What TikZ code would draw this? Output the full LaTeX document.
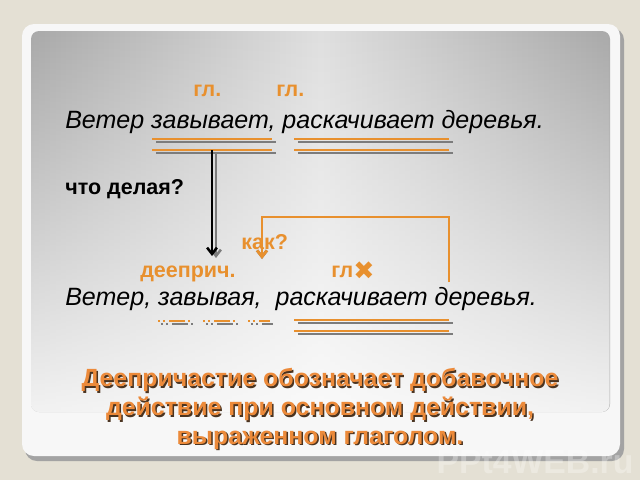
\documentclass[tikz,border=0pt]{standalone}
\usepackage{fontspec}
\setmainfont{Liberation Sans}
\newfontfamily\symbfont{DejaVu Sans}
\usetikzlibrary{arrows.meta,fadings}
\definecolor{bgbeige}{HTML}{E4E0D4}
\definecolor{orng}{HTML}{E8902E}
\definecolor{shd}{HTML}{7C7C7C}
\definecolor{panelgrey}{HTML}{A9A9A9}
\definecolor{txtorng}{HTML}{EC8A3A}
\definecolor{txtdark}{HTML}{4A3320}
\tikzstyle{sent}=[anchor=base west,inner sep=0pt,font=\fontsize{17.8}{20}\selectfont\itshape]
\tikzstyle{tag}=[anchor=base west,inner sep=0pt,text=orng,font=\fontsize{15.3}{17}\selectfont\bfseries]
\tikzstyle{uline}=[draw=orng,line width=2.1pt]
\tikzstyle{ushadow}=[draw=shd,line width=2.1pt]
\tikzstyle{ddash}=[dash pattern=on 0.5mm off 0.75mm on 0.5mm off 1mm on 4mm off 0.75mm on 0.5mm off 3.25mm]
\tikzstyle{rule}=[font=\fontsize{17.7}{20.5}\selectfont\bfseries,align=center,inner sep=0pt]

\begin{document}
\begin{tikzpicture}[x=0.25mm,y=-0.25mm]
                  \useasboundingbox (0,0) rectangle (640,480);
                  \fill [bgbeige] (0,0) rectangle (640,480);

                  % slide frame
                  \fill [shd!70,rounded corners=3mm] (25,28) rectangle (624,461);
                  \fill [white!94!gray,rounded corners=3mm] (22,24) rectangle (620,456);
                  \shade [left color=panelgrey,right color=panelgrey,middle color=gray!25,rounded corners=2mm] (31,31) rectangle (610,412);
                  \fill [white,path fading=north,fill opacity=0.85,rounded corners=2mm] (31,31) rectangle (610,412);

                  \node (w) at (535,462) [text=white,opacity=0.3,font=\fontsize{24}{24}\selectfont\bfseries] {PPt4WEB.ru};

                  % first sentence
                  \node (g1) at (193,96) [tag] {гл.};
                  \node (g2) at (276,96) [tag] {гл.};
                  \node (s1) at (65,128) [sent] {Ветер завывает, раскачивает деревья.};

                  \foreach \xa/\xb/\y in {152/272/139,152/272/150,294/449/139,294/449/150,294/449/320,294/449/331} {
                      \draw [ushadow] (\xa+4,\y+3) -- (\xb+4,\y+3);
                      \draw [uline] (\xa,\y) -- (\xb,\y);
                  }

                  \node (q) at (65,194) [tag,text=black] {что делая?};

                  % question arrow
                  \coordinate (a1) at (212,150);
                  \coordinate (a2) at (212,256);
                  \draw [shd,line width=1.8pt,-{Straight Barb[length=4.5pt,width=7pt]}] ([xshift=4*0.25mm,yshift=-2*0.25mm]a1) -- ([xshift=4*0.25mm,yshift=-2*0.25mm]a2);
                  \draw [black,line width=1.8pt,-{Straight Barb[length=4.5pt,width=7pt]}] (a1) -- (a2);

                  % bracket
                  \coordinate (b1) at (449,282);
                  \coordinate (b2) at (449,217);
                  \coordinate (b3) at (262,217);
                  \coordinate (b4) at (262,259);
                  \begin{scope}[xshift=4*0.25mm,yshift=-3.5*0.25mm]
                      \draw [shd,line width=2pt,-{Straight Barb[length=4.5pt,width=7pt]}] (b1) -- (b2) -- (b3) -- (b4);
                  \end{scope}
                  \draw [orng,line width=2pt,-{Straight Barb[length=4.5pt,width=7pt]}] (b1) -- (b2) -- (b3) -- (b4);

                  \node (kak) at (241,249) [tag] {как?};
                  \node (dp) at (140,277) [tag] {дееприч.};
                  \node (g3) at (331,277) [tag] {гл};
                  \node (x) at (364,271) [text=orng,font=\symbfont\fontsize{18}{18}\selectfont] {✖};

                  % second sentence
                  \node (s2) at (65,305) [sent] {Ветер, завывая,\ \ раскачивает деревья.};

                  \draw [ushadow,ddash] (161,324) -- (273,324);
                  \draw [uline,ddash] (158,321) -- (270,321);

                  % rule
                  \node (r0) at (321.5,410.5) [rule,text=txtdark] {Деепричастие обозначает добавочное\\действие при основном действии,\\выраженном глаголом.};
                  \node (r) at (320,409) [rule,text=txtorng] {Деепричастие обозначает добавочное\\действие при основном действии,\\выраженном глаголом.};
              \end{tikzpicture}
\end{document}
